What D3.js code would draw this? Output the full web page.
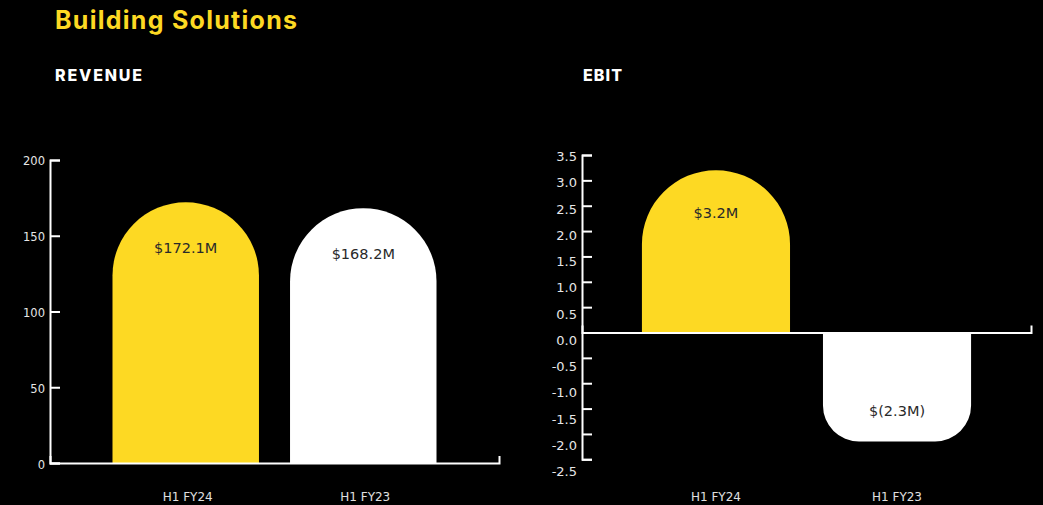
<!DOCTYPE html>
<html>
<head>
<meta charset="utf-8">
<script src="https://cdn.jsdelivr.net/npm/d3@7"></script>
<style>
  html, body { margin: 0; padding: 0; background: #000; }
  svg { display: block; }
</style>
</head>
<body>
<svg id="chart" width="1043" height="505"></svg>
<script>
// ---- data ----
const categories = ["H1 FY24", "H1 FY23"];
const revenueValues = [172.1, 168.2];
const revenueLabels = ["$172.1M", "$168.2M"];
const revenueTicks = [0, 50, 100, 150, 200];
const ebitValues = [3.2, -2.15];
const ebitLabels = ["$3.2M", "$(2.3M)"];
const ebitTicks = [-2.5, -2.0, -1.5, -1.0, -0.5, 0.0, 0.5, 1.0, 1.5, 2.0, 2.5, 3.0, 3.5];
const barColors = ["#FDD923", "#FFFFFF"];

const svg = d3.select("#chart");
svg.append("rect").attr("width", 1043).attr("height", 505).attr("fill", "#000");

// titles
svg.append("text").attr("x", 55).attr("y", 29)
  .attr("font-family", "Inter, 'Open Sans', sans-serif").attr("font-weight", 700)
  .attr("font-size", 25).attr("fill", "#FDD923")
  .attr("textLength", 242).attr("lengthAdjust", "spacing")
  .text("Building Solutions");
svg.append("text").attr("x", 55).attr("y", 81)
  .attr("font-family", "Inter, 'Open Sans', sans-serif").attr("font-weight", 800)
  .attr("font-size", 16).attr("fill", "#FFFFFF")
  .attr("textLength", 87).attr("lengthAdjust", "spacing")
  .text("REVENUE");
svg.append("text").attr("x", 583).attr("y", 81)
  .attr("font-family", "Inter, 'Open Sans', sans-serif").attr("font-weight", 800)
  .attr("font-size", 16).attr("fill", "#FFFFFF")
  .attr("textLength", 39).attr("lengthAdjust", "spacing")
  .text("EBIT");

function barPath(x, w, y0, y1, r) {
  if (y1 < y0) { // positive: round the top
    const rr = Math.min(r, w / 2, y0 - y1);
    return `M${x},${y0}V${y1 + rr}A${rr},${rr} 0 0 1 ${x + rr},${y1}H${x + w - rr}A${rr},${rr} 0 0 1 ${x + w},${y1 + rr}V${y0}Z`;
  } else { // negative: round the bottom
    const rr = Math.min(r, w / 2, y1 - y0);
    return `M${x},${y0}V${y1 - rr}A${rr},${rr} 0 0 0 ${x + rr},${y1}H${x + w - rr}A${rr},${rr} 0 0 0 ${x + w},${y1 - rr}V${y0}Z`;
  }
}

function drawChart(cfg) {
  const g = svg.append("g");
  const x = d3.scaleBand().domain(categories).range([cfg.x0, cfg.x1])
    .paddingInner(cfg.pi).paddingOuter(cfg.po);
  const y = d3.scaleLinear().domain(cfg.domain).range(cfg.yRange);
  const yLab = d3.scaleLinear().domain(cfg.domain).range(cfg.labRange);
  const zeroY = y(0);

  g.selectAll("path.bar").data(cfg.values).join("path")
    .attr("class", "bar")
    .attr("fill", (d, i) => barColors[i])
    .attr("d", (d, i) => barPath(x(categories[i]), x.bandwidth(), zeroY, y(d),
      d >= 0 ? x.bandwidth() / 2 : cfg.negRadius));

  g.selectAll("text.val").data(cfg.values).join("text")
    .attr("class", "val")
    .attr("x", (d, i) => x(categories[i]) + x.bandwidth() / 2)
    .attr("y", d => d >= 0 ? y(d) + cfg.posLabelOff : y(d) - 26)
    .attr("text-anchor", "middle")
    .attr("font-family", "'DejaVu Sans', Verdana, sans-serif")
    .attr("font-size", 14.5).attr("fill", "#2a2a2a")
    .text((d, i) => cfg.labels[i]);

  const yAxis = d3.axisLeft(y).tickValues(cfg.ticks).tickFormat("")
    .tickSizeInner(-10).tickSizeOuter(-10);
  const ya = g.append("g").attr("transform", `translate(${cfg.x0},0)`).call(yAxis);
  ya.selectAll("path, line").attr("stroke", "#fff").attr("stroke-width", 2);

  const yLabAxis = d3.axisLeft(yLab).tickValues(cfg.ticks).tickFormat(cfg.fmt)
    .tickSize(0).tickPadding(5);
  const yl = g.append("g").attr("transform", `translate(${cfg.x0},0)`).call(yLabAxis);
  yl.select(".domain").remove();
  yl.selectAll("text").attr("fill", "#e6e6e6")
    .attr("font-family", "'DejaVu Sans', Verdana, sans-serif")
    .attr("font-size", cfg.tickFont);

  const xAxis = d3.axisBottom(x).tickSizeInner(0).tickSizeOuter(-7).tickFormat("");
  const xa = g.append("g").attr("transform", `translate(0,${zeroY})`).call(xAxis);
  xa.selectAll(".tick").remove();
  xa.select(".domain").attr("stroke", "#fff").attr("stroke-width", 2);

  g.selectAll("text.cat").data(categories).join("text")
    .attr("class", "cat")
    .attr("x", d => x(d) + x.bandwidth() / 2 + cfg.catOff)
    .attr("y", 501)
    .attr("text-anchor", "middle")
    .attr("font-family", "'DejaVu Sans', Verdana, sans-serif")
    .attr("font-size", 12).attr("fill", "#e0e0e0")
    .text(d => d);
}

drawChart({
  x0: 50, x1: 499, pi: 0.175, po: 0.352,
  domain: [0, 200], yRange: [463, 160], labRange: [465, 161],
  values: revenueValues, labels: revenueLabels, ticks: revenueTicks,
  fmt: d => String(d), tickFont: 11.5, negRadius: 36, posLabelOff: 51, catOff: 2
});

drawChart({
  x0: 582, x1: 1031, pi: 0.182, po: 0.331,
  domain: [-2.5, 3.5], yRange: [459.3, 155], labRange: [471.5, 156.5],
  values: ebitValues, labels: ebitLabels, ticks: ebitTicks,
  fmt: d => d.toFixed(1), tickFont: 13, negRadius: 36, posLabelOff: 48, catOff: 0
});
</script>
</body>
</html>
